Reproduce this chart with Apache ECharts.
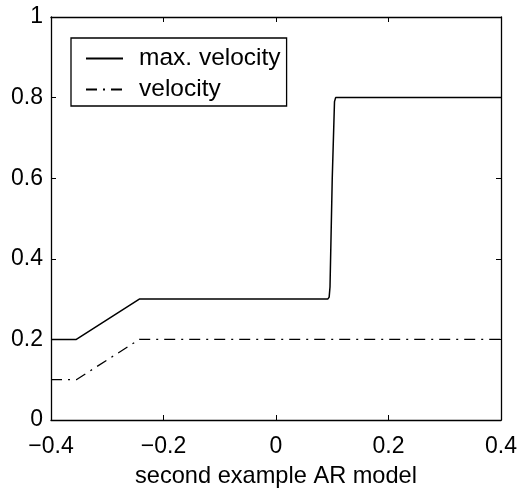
<!DOCTYPE html>
<html>
<head>
<meta charset="utf-8">
<script src="https://cdn.jsdelivr.net/npm/echarts@6/dist/echarts.min.js"></script>
<style>html,body{margin:0;padding:0;background:#fff}#c{width:523px;height:495px}</style>
</head>
<body>
<div id="c"></div>
<script>
var maxVelX = [-0.4, -0.355, -0.243, 0.092, 0.0945, 0.096, 0.100, 0.104, 0.106, 0.4];
var maxVelY = [0.2, 0.2, 0.3, 0.3, 0.305, 0.33, 0.6, 0.79, 0.8, 0.8];
var velX = [-0.4, -0.355, -0.243, 0.4];
var velY = [0.1, 0.1, 0.2, 0.2];
var xTicks = [-0.4, -0.2, 0, 0.2, 0.4];
var yTicks = [0, 0.2, 0.4, 0.6, 0.8, 1];
var seriesNames = ['max. velocity', 'velocity'];
var xTitle = 'second example AR model';

function pairs(xs, ys){ return xs.map(function(x,i){ return [x, ys[i]]; }); }
function fmt(v){ var s = String(Math.round(v*10)/10); return s.replace('-', '\u2212'); }
var FONT = 'Liberation Sans, Arial, sans-serif';
var chart = echarts.init(document.getElementById('c'));
var axisCommon = {
  axisLine: {show: true, onZero: false, lineStyle: {color: '#000', width: 1.3}},
  axisTick: {show: true, inside: true, length: 5, lineStyle: {color: '#000', width: 1}},
  splitLine: {show: false}
};
chart.setOption({
  backgroundColor: '#fff',
  animation: false,
  grid: {left: 51, right: 22, top: 17, bottom: 75},
  legend: {
    left: 71, top: 38,
    orient: 'vertical',
    data: seriesNames,
    itemWidth: 37, itemHeight: 14,
    itemGap: 6,
    padding: [8, 6, 4, 14],
    borderColor: '#000', borderWidth: 1.3,
    backgroundColor: '#fff',
    itemStyle: {opacity: 0, borderWidth: 0},
    textStyle: {fontFamily: FONT, fontSize: 24.5, color: '#000', padding: [0, 0, 0, 11]}
  },
  xAxis: [
    Object.assign({type: 'value', min: -0.4, max: 0.4, interval: 0.2, position: 'bottom',
      name: xTitle, nameLocation: 'middle', nameGap: 44,
      nameTextStyle: {fontFamily: FONT, fontSize: 23.6, color: '#000'},
      axisLabel: {fontFamily: FONT, fontSize: 23, color: '#000', margin: 15, formatter: fmt,
        customValues: xTicks}}, axisCommon),
    Object.assign({type: 'value', min: -0.4, max: 0.4, interval: 0.2, position: 'top',
      axisLabel: {show: false}}, axisCommon)
  ],
  yAxis: [
    Object.assign({type: 'value', min: 0, max: 1, interval: 0.2, position: 'left',
      axisLabel: {fontFamily: FONT, fontSize: 23, color: '#000', margin: 8, formatter: fmt,
        customValues: yTicks}}, axisCommon),
    Object.assign({type: 'value', min: 0, max: 1, interval: 0.2, position: 'right',
      axisLabel: {show: false}}, axisCommon)
  ],
  series: [
    {name: seriesNames[0], type: 'line', data: pairs(maxVelX, maxVelY), symbol: 'none',
     lineStyle: {color: '#000', width: 1.5, type: 'solid'}, itemStyle: {color: '#000'}},
    {name: seriesNames[1], type: 'line', data: pairs(velX, velY), symbol: 'none',
     lineStyle: {color: '#000', width: 1.3, type: [11, 6, 2, 6]}, itemStyle: {color: '#000'}}
  ]
});
</script>
</body>
</html>
